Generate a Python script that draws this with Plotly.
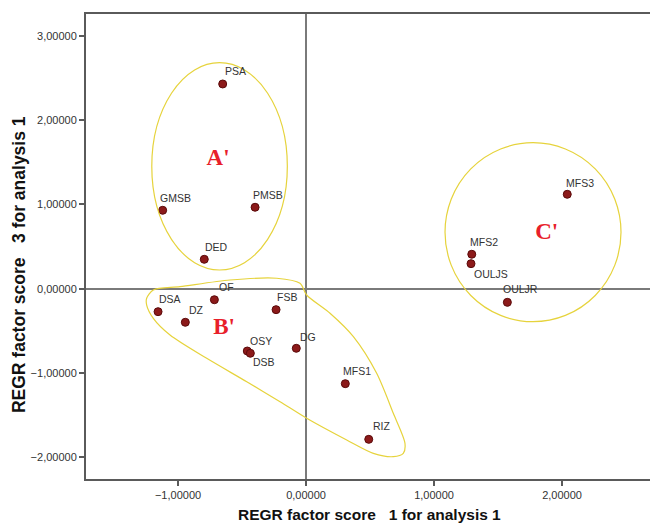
import plotly.graph_objects as go

# ---- data ----
labels = ["PSA", "GMSB", "PMSB", "DED", "DSA", "OF", "DZ", "FSB", "OSY", "DSB",
          "DG", "MFS1", "RIZ", "MFS3", "MFS2", "OULJS", "OULJR"]
factor1 = [-0.651, -1.120, -0.398, -0.795, -1.156, -0.716, -0.943, -0.234, -0.459, -0.435,
           -0.076, 0.307, 0.490, 2.041, 1.295, 1.289, 1.573]
factor3 = [2.431, 0.931, 0.967, 0.349, -0.273, -0.131, -0.399, -0.249, -0.740, -0.767,
           -0.708, -1.128, -1.789, 1.121, 0.409, 0.297, -0.162]

# group ellipses (x0, x1, y0, y1 in factor-score units)
group_A = [-1.205, -0.146, 0.222, 2.684]
group_C = [1.086, 2.461, -0.392, 1.734]
# group B outline (factor-score units)
blob_x = [-1.245, -1.193, -0.984, -0.594, -0.229, -0.047, 0.005, 0.1875, 0.37, 0.552, 0.682,
          0.773, 0.76, 0.682, 0.526, 0.318, 0.005, -0.203, -0.463, -0.776, -1.0625, -1.193,
          -1.245, -1.245]
blob_y = [-0.114, -0.015, 0.024, 0.103, 0.124, 0.064, -0.075, -0.292, -0.57, -1.005, -1.48,
          -1.836, -1.955, -1.995, -1.955, -1.797, -1.539, -1.342, -1.105, -0.827, -0.55, -0.352,
          -0.194, -0.114]
group_names = ["A'", "B'", "C'"]
group_x = [-0.6875, -0.64, 1.88]
group_y = [1.54, -0.467, 0.66]

x_ticks = [-1, 0, 1, 2]
y_ticks = [-2, -1, 0, 1, 2, 3]

# ---- styling ----
# label pixel offsets (dx right, dy down) of the label's left/middle from the point
label_offset = {
    "PSA": (1, -13), "GMSB": (-4, -12.5), "PMSB": (-3, -12), "DED": (0, -12),
    "DSA": (0, -12.5), "OF": (4, -12.5), "DZ": (3, -12.5), "FSB": (0, -12.5),
    "OSY": (2, -10.5), "DSB": (2, 9), "DG": (3, -11.5), "MFS1": (-3, -12.5),
    "RIZ": (3, -13.5), "MFS3": (-2, -11.5), "MFS2": (-3, -12.5), "OULJS": (2, 10.5),
    "OULJR": (-5, -13),
}

YELLOW = "#e6d33c"
AXIS = "#5a5a5a"
FONT = "Liberation Sans, Arial, sans-serif"

fig = go.Figure()

fig.add_trace(go.Scatter(
    x=blob_x, y=blob_y, mode="lines",
    line=dict(color=YELLOW, width=1.2, shape="spline", smoothing=0.8),
    hoverinfo="skip", showlegend=False))

fig.add_trace(go.Scatter(
    x=factor1, y=factor3, mode="markers", text=labels,
    marker=dict(size=8, color="#8c1a1a", line=dict(color="#5a0a0a", width=1)),
    showlegend=False))

for name, xv, yv in zip(labels, factor1, factor3):
    dx, dy = label_offset[name]
    fig.add_annotation(x=xv, y=yv, xref="x", yref="y", text=name, showarrow=False,
                       xanchor="left", yanchor="middle", xshift=dx, yshift=-dy,
                       borderpad=0,
                       font=dict(family=FONT, size=10.5, color="#333333"))

fig.add_trace(go.Scatter(
    x=group_x, y=group_y, mode="text", text=["<b>%s</b>" % g for g in group_names],
    textfont=dict(family="Liberation Serif, Times New Roman, serif", size=23, color="#e8202a"),
    hoverinfo="skip", showlegend=False))

for g in (group_A, group_C):
    fig.add_shape(type="circle", xref="x", yref="y",
                  x0=g[0], x1=g[1], y0=g[2], y1=g[3],
                  line=dict(color=YELLOW, width=1.2), layer="above")

# axis titles as annotations for exact placement
fig.add_annotation(text="<b>REGR factor score   1 for analysis 1</b>", xref="paper", yref="paper",
                   x=0.5035, y=0, xanchor="center", yanchor="middle", yshift=-35,
                   showarrow=False, font=dict(family=FONT, size=15.5, color="#111111"))
fig.add_annotation(text="<b>REGR factor score   3 for analysis 1</b>", xref="paper", yref="paper",
                   x=0, y=0.46, xanchor="center", yanchor="middle", xshift=-67, textangle=-90,
                   showarrow=False, font=dict(family=FONT, size=17.5, color="#111111"))

fig.update_layout(
    width=650, height=525,
    margin=dict(l=86, r=0, t=14, b=46),
    paper_bgcolor="white", plot_bgcolor="white",
    separators=",.",
    font=dict(family=FONT, color="#333333"),
    xaxis=dict(range=[-1.719, 2.6875], tickvals=x_ticks, tickformat=".5f",
               showgrid=False, zeroline=True, zerolinecolor="#7a7a7a", zerolinewidth=1.5,
               showline=True, linecolor=AXIS, linewidth=2, mirror=True,
               ticks="outside", ticklen=5, tickwidth=1.5, tickcolor=AXIS,
               tickfont=dict(size=11, color="#333333")),
    yaxis=dict(range=[-2.26, 3.262], tickvals=y_ticks, tickformat=".5f",
               showgrid=False, zeroline=True, zerolinecolor="#7a7a7a", zerolinewidth=1.5,
               showline=True, linecolor=AXIS, linewidth=2, mirror=False,
               ticks="outside", ticklen=5, tickwidth=1.5, tickcolor=AXIS,
               tickfont=dict(size=11, color="#333333")),
)

fig.write_html("out.html")
